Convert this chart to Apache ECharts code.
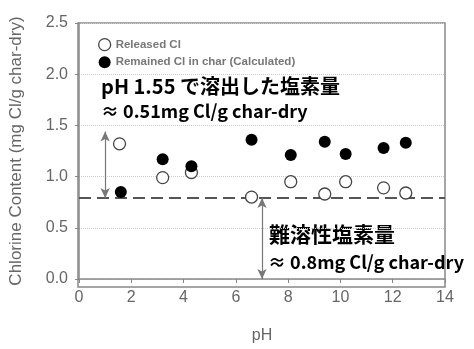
<!DOCTYPE html>
<html><head><meta charset="utf-8">
<script src="https://cdn.jsdelivr.net/npm/echarts@6/dist/echarts.min.js"></script>
<style>html,body{margin:0;padding:0;background:#fff}#c{width:474px;height:349px}</style>
</head><body><div id="c"></div>
<script>
const releasedPH = [1.55, 3.2, 4.3, 6.6, 8.1, 9.4, 10.2, 11.65, 12.5];
const releasedCl = [1.32, 0.99, 1.04, 0.80, 0.95, 0.83, 0.95, 0.89, 0.84];
const remainedPH = [1.6, 3.2, 4.3, 6.6, 8.1, 9.4, 10.2, 11.65, 12.5];
const remainedCl = [0.85, 1.17, 1.10, 1.36, 1.21, 1.34, 1.22, 1.28, 1.33];
const insolubleLevel = 0.79;
const releasedArrow = [1.0, 1.44];
const insolubleArrowX = 7.0;
const seriesNames = ['Released Cl', 'Remained Cl in char (Calculated)'];

const chart = echarts.init(document.getElementById('c'));
const font = 'Liberation Sans, Arial, sans-serif';
const jp = '"Noto Sans CJK JP", sans-serif';
chart.setOption({
  animation: false,
  grid: {left: 78, right: 29, top: 23, bottom: 62, show: false},
  legend: {
    orient: 'vertical', left: 93, top: 33, itemWidth: 12, itemHeight: 12, itemGap: 5,
    textStyle: {color: '#777', fontSize: 11.5, fontFamily: font, fontWeight: 'bold'},
    data: [
      {name: seriesNames[0], icon: 'circle', itemStyle: {color: '#fff', borderColor: '#444', borderWidth: 1.3}},
      {name: seriesNames[1], icon: 'circle', itemStyle: {color: '#000', opacity: 1}}
    ]
  },
  xAxis: {
    type: 'value', min: 0, max: 14, interval: 2,
    name: 'pH', nameLocation: 'middle', nameGap: 49,
    nameTextStyle: {color: '#666', fontSize: 16, fontFamily: font},
    axisLine: {show: true, lineStyle: {color: '#888', width: 1.5}},
    axisTick: {show: true, length: 4, lineStyle: {color: '#888'}},
    axisLabel: {color: '#666', fontSize: 16, fontFamily: font, margin: 11},
    splitLine: {show: false}
  },
  yAxis: {
    type: 'value', min: 0, max: 2.5, interval: 0.5,
    name: 'Chlorine Content (mg Cl/g char-dry)', nameLocation: 'middle', nameGap: 54,
    nameTextStyle: {color: '#666', fontSize: 17, fontFamily: font},
    axisLine: {show: true, lineStyle: {color: '#888', width: 1.5}},
    axisTick: {show: true, length: 4, lineStyle: {color: '#888'}},
    axisLabel: {color: '#666', fontSize: 16, fontFamily: font, margin: 11, formatter: v => v.toFixed(1)},
    splitLine: {show: true, lineStyle: {color: '#ccc', type: 'dotted', width: 1}}
  },
  graphic: [
    {type: 'rect', shape: {x: 78, y: 23, width: 367, height: 264}, style: {fill: 'none', stroke: '#888', lineWidth: 1.5}, silent: true, z: 0},
    {type: 'text', left: 101, top: 76, style: {text: 'pH 1.55 で溶出した塩素量', fill: '#000', font: 'bold 20px ' + jp}},
    {type: 'text', left: 101, top: 102, style: {text: '≈ 0.51mg Cl/g char-dry', fill: '#000', font: 'bold 18px ' + jp}},
    {type: 'text', left: 269, top: 224, style: {text: '難溶性塩素量', fill: '#000', font: 'bold 21px ' + jp}},
    {type: 'text', left: 268, top: 253, style: {text: '≈ 0.8mg Cl/g char-dry', fill: '#000', font: 'bold 18px ' + jp}}
  ],
  series: [
    {
      name: seriesNames[0], type: 'scatter', symbol: 'circle', symbolSize: 12, z: 5,
      itemStyle: {color: '#fff', borderColor: '#444', borderWidth: 1.3, opacity: 1},
      data: releasedPH.map((x, i) => [x, releasedCl[i]])
    },
    {
      name: seriesNames[1], type: 'scatter', symbol: 'circle', symbolSize: 12, z: 6,
      itemStyle: {color: '#000', opacity: 1},
      data: remainedPH.map((x, i) => [x, remainedCl[i]])
    },
    {
      name: 'insoluble', type: 'line', symbol: 'none', z: 3,
      lineStyle: {color: '#555', width: 2, type: [12, 6]},
      data: [[0, insolubleLevel], [14, insolubleLevel]],
      markLine: {
        silent: true, symbol: ['arrow', 'arrow'], symbolSize: [7, 10],
        lineStyle: {color: '#777', width: 1.2, type: 'solid'}, label: {show: false},
        data: [
          [{coord: [releasedArrow[0], releasedArrow[1]]}, {coord: [releasedArrow[0], insolubleLevel]}],
          [{coord: [insolubleArrowX, insolubleLevel]}, {coord: [insolubleArrowX, 0]}]
        ]
      }
    }
  ]
});
</script></body></html>
